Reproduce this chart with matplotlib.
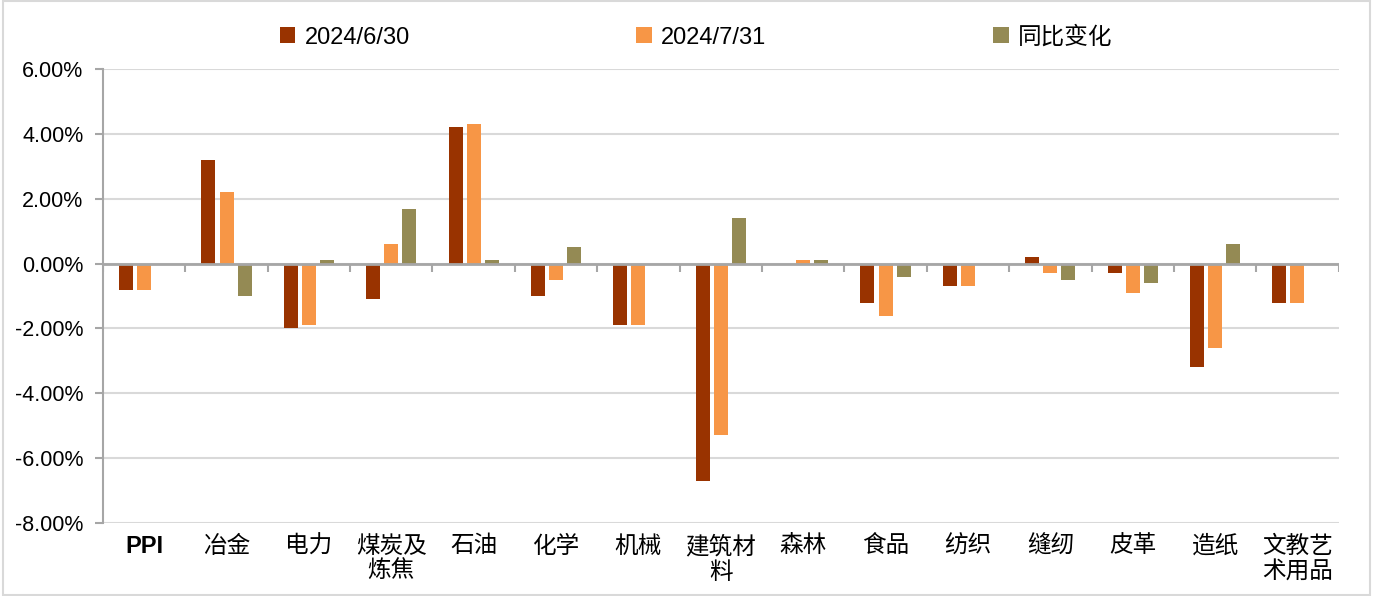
import numpy as np
import matplotlib
matplotlib.use("Agg")
import matplotlib.pyplot as plt
from matplotlib.patches import Rectangle

plt.rcParams['font.family'] = ['Liberation Sans', 'Noto Sans CJK SC', 'DejaVu Sans']

# 行业 PPI 同比（%）
categories = ['PPI', '冶金', '电力', '煤炭及\n炼焦', '石油', '化学', '机械', '建筑材\n料',
              '森林', '食品', '纺织', '缝纫', '皮革', '造纸', '文教艺\n术用品']
jun30 = [-0.8, 3.2, -2.0, -1.1, 4.2, -1.0, -1.9, -6.7, 0.0, -1.2, -0.7, 0.2, -0.3, -3.2, -1.2]
jul31 = [-0.8, 2.2, -1.9, 0.6, 4.3, -0.5, -1.9, -5.3, 0.1, -1.6, -0.7, -0.3, -0.9, -2.6, -1.2]
change = [0.0, -1.0, 0.1, 1.7, 0.1, 0.5, 0.0, 1.4, 0.1, -0.4, 0.0, -0.5, -0.6, 0.6, 0.0]
series_names = ['2024/6/30', '2024/7/31', '同比变化']
colors = ['#993300', '#F79646', '#948A54']

fig = plt.figure(figsize=(13.73, 5.96), dpi=100)
ax = fig.add_axes([0.075, 0.1225, 0.9, 0.7615])

x = np.arange(len(categories))
w = 0.17
step = 0.22
for i, (vals, name, c) in enumerate(zip([jun30, jul31, change], series_names, colors)):
    ax.bar(x + (i - 1) * step, vals, width=w, color=c, label=name, zorder=3)

ax.set_xlim(-0.5, len(categories) - 0.5)
ax.set_ylim(-8, 6)
ax.set_yticks(np.arange(-8, 7, 2))
ax.set_yticklabels([f'{v:.2f}%' for v in np.arange(-8, 7, 2)], fontsize=15.5)
ax.yaxis.grid(True, color='#D9D9D9', linewidth=1.5, zorder=0)

for s in ['top', 'right', 'bottom']:
    ax.spines[s].set_visible(False)
ax.spines['left'].set_color('#A6A6A6')
ax.spines['left'].set_linewidth(1.5)
ax.tick_params(axis='y', colors='#A6A6A6', length=6, width=1.5, labelcolor='black', pad=8)

# zero axis line with category boundary ticks
ax.axhline(0, color='#A6A6A6', linewidth=2, zorder=4)
ax.vlines(np.arange(len(categories) + 1) - 0.5, -0.25, 0, color='#A6A6A6', linewidth=1.5, zorder=4)

ax.set_xticks(x)
ax.set_xticklabels(categories, fontsize=17, linespacing=1.2, va='top')
ax.tick_params(axis='x', length=0, pad=9)
ax.get_xticklabels()[0].set_fontweight('bold')

fig.legend(loc='upper center', bbox_to_anchor=(0.507, 0.992), ncol=3, frameon=False,
           fontsize=17, handlelength=0.65, handleheight=0.65, handletextpad=0.4,
           columnspacing=9.6)

fig.patches.append(Rectangle((0.002, 0.002), 0.996, 0.996, transform=fig.transFigure,
                             fill=False, edgecolor='#D9D9D9', linewidth=1.5))

fig.savefig('out.png', dpi=100)
